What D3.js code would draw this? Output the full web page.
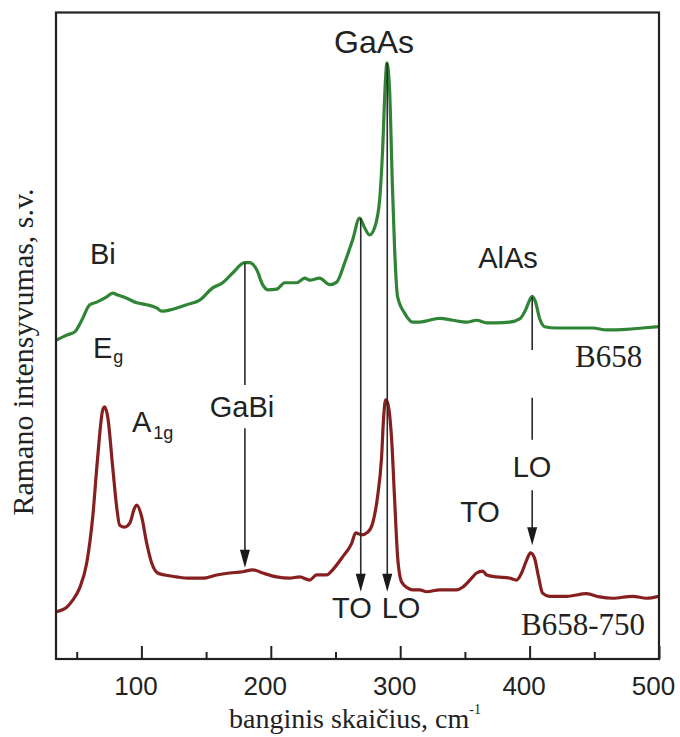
<!DOCTYPE html>
<html>
<head>
<meta charset="utf-8">
<script src="https://cdn.jsdelivr.net/npm/d3@7"></script>
<style>
  body { margin: 0; background: #fff; }
  .sans { font-family: "Liberation Sans", Arial, Helvetica, sans-serif; fill: #222; }
  .serif { font-family: "Liberation Serif", "Times New Roman", serif; fill: #222; }
</style>
</head>
<body>
<svg id="chart" width="680" height="737"></svg>
<script>
// Raman spectra: wavenumber (cm^-1) and intensity (arb. units)
const wnB658 = [34,42.3,48.5,53.9,60.1,65.5,73.2,77.8,81.7,88.6,96.4,104.1,111.8,115.7,124.2,135,145,155.1,162.8,170.5,179.8,183.7,189.1,193.7,197.6,204.5,210.7,220,226.2,230,237.7,245.5,250.9,257.1,263.2,268.6,272.5,276.4,280.2,284.1,286.4,288.5,289.7,291.8,293.9,295.7,298,303.4,309.6,315,320.4,330.5,340.5,351.3,359,366.8,374.5,384.5,392.3,396.9,400,402.1,404.6,407.7,411.6,420.9,433.2,448.7,459.5,475,487.3,500];
const intB658 = [49.3,50.1,50.6,52.4,54.8,55.2,56.0,56.6,56.3,55.8,55.1,54.8,54.3,53.8,54.1,54.8,55.5,57.4,58.2,59.7,61.3,61.3,60.2,57.9,57.1,57.2,58.2,58.2,58.9,58.6,58.9,57.9,58.3,61.3,64.8,68.2,66.7,65.6,66.7,71.0,78.7,89.1,92.2,88.0,73.6,63.3,56.0,53.5,52.1,52.1,52.3,52.7,52.4,52.1,52.4,52.0,52.0,52.1,52.6,54.0,55.5,56.1,55.2,52.7,51.4,51.2,51.2,51.2,50.9,51.0,51.2,51.4];

const wnB658750 = [34,42.3,46.9,52.3,57.7,62.4,66.2,70.1,71.7,74,77.8,80.9,83.2,87.1,91,94.8,96.4,100.2,104.1,108,112.6,118,127.3,137.3,147.4,158.2,168.2,178.3,186,193.7,204.5,214.6,222.3,230,235.4,243.2,247.8,255.5,262.5,265.6,270.2,274.8,278.7,282.5,285.6,287.2,288.7,290.3,293.4,295.7,298,301.1,305.7,309.6,315,320.4,330.5,343.6,348.2,355.2,359,363.7,366.8,374.5,384.5,389.9,393.8,397.7,400.7,403.8,406.9,410,415.4,428.6,444,454.1,464.2,479.6,490.4,500];
const intB658750 = [7.3,8.0,9.1,11.0,14.8,22.0,31.2,38.5,39.0,37.4,29.7,23.5,20.7,20.4,21.0,23.4,23.8,22.0,17.9,14.8,13.3,13.0,12.7,12.5,12.5,13.0,13.3,13.5,13.8,13.3,12.7,12.5,12.7,12.2,13.0,13.0,13.8,15.8,17.9,19.5,19.2,19.6,21.0,25.1,31.2,37.4,40.1,39.6,33.9,24.6,15.8,11.9,11.0,10.7,10.7,10.4,10.7,10.7,11.1,12.5,13.3,13.6,13.0,12.7,12.5,12.2,13.3,15.3,16.4,15.6,12.7,10.2,9.7,9.7,10.1,9.6,9.4,9.7,9.4,9.7];

const xTicksMajor = [100, 200, 300, 400, 500];
const xTicksMinor = [50, 150, 250, 350, 450];

// Phonon mode positions (cm^-1) marked on the spectra
const modeGaBi = 180;
const modeGaAsTO = 269.5;
const modeGaAsLO = 290;
const modeAlAsLO = 402;

const svg = d3.select("#chart");
const frame = { left: 56, right: 659, top: 12.5, bottom: 659 };

const x = d3.scaleLinear().domain([34, 500]).range([frame.left, frame.right]);
const y = d3.scaleLinear().domain([0, 100]).range([frame.bottom, frame.top]);

svg.append("defs").append("clipPath").attr("id", "plotClip")
  .append("rect").attr("x", frame.left).attr("y", frame.top)
  .attr("width", frame.right - frame.left).attr("height", frame.bottom - frame.top);

const line = d3.line()
  .x(d => x(d[0])).y(d => y(d[1]))
  .curve(d3.curveMonotoneX);

const plot = svg.append("g").attr("clip-path", "url(#plotClip)");

plot.append("path")
  .datum(d3.zip(wnB658, intB658))
  .attr("d", line)
  .attr("fill", "none")
  .attr("stroke", "#2f8535")
  .attr("stroke-width", 3.2)
  .attr("stroke-linejoin", "round");

plot.append("path")
  .datum(d3.zip(wnB658750, intB658750))
  .attr("d", line)
  .attr("fill", "none")
  .attr("stroke", "#862020")
  .attr("stroke-width", 3.2)
  .attr("stroke-linejoin", "round");

// marker lines and arrows
const ann = svg.append("g").attr("stroke", "#2a2a2a").attr("stroke-width", 1.6).attr("fill", "#1a1a1a");

function seg(w, i0, i1) {
  ann.append("line")
    .attr("x1", x(w)).attr("x2", x(w))
    .attr("y1", y(i0)).attr("y2", y(i1));
}
function arrow(w, i0, iTip) {
  const xt = x(w), yt = y(iTip), head = 18, half = 5;
  ann.append("line")
    .attr("x1", xt).attr("x2", xt)
    .attr("y1", y(i0)).attr("y2", yt - head + 2);
  ann.append("path")
    .attr("stroke", "none")
    .attr("d", `M${xt},${yt} L${xt - half},${yt - head} L${xt + half},${yt - head} Z`);
}

seg(modeGaBi, 61.3, 42.4);
arrow(modeGaBi, 35.7, 14.1);
arrow(modeGaAsTO, 68.2, 10.4);
arrow(modeGaAsLO, 92.2, 10.4);
seg(modeAlAsLO, 56.0, 47.8);
seg(modeAlAsLO, 40.4, 33.9);
arrow(modeAlAsLO, 26.1, 17.6);

// labels
function label(text, w, i, size, anchor, cls) {
  return svg.append("text")
    .attr("class", cls || "sans")
    .attr("x", x(w)).attr("y", y(i))
    .attr("font-size", size)
    .attr("text-anchor", anchor || "middle")
    .text(text);
}

label("GaAs", 279.8, 93.7, 32);
label("Bi", 60.3, 61.1, 29, "start");
const eg = label("E", 62.6, 46.6, 29, "start");
eg.append("tspan").attr("font-size", 18).attr("dy", 5).attr("dx", 1).text("g");
const a1g = label("A", 92.7, 35.1, 29, "start");
a1g.append("tspan").attr("font-size", 18).attr("dy", 7).attr("dx", 2).text("1g");
label("GaBi", 177.7, 37.4, 29);
label("AlAs", 383.3, 60.5, 29);
label("LO", 401.9, 28.2, 29);
label("TO", 361.7, 21.2, 29);
label("TO", 262.7, 6.3, 29);
label("LO", 300.6, 6.3, 29);
label("B658", 487, 45.2, 31, "end", "serif");
label("B658-750", 489.2, 3.7, 31, "end", "serif");

// x axis with inward ticks
const axisMajor = d3.axisBottom(x).tickValues(xTicksMajor).tickSize(-13).tickPadding(17.5).tickFormat(d3.format("d"));
const axisMinor = d3.axisBottom(x).tickValues(xTicksMinor).tickSize(-7).tickFormat("");

const gMinor = svg.append("g").attr("transform", `translate(0,${frame.bottom})`).call(axisMinor);
const gMajor = svg.append("g").attr("transform", `translate(0,${frame.bottom})`).call(axisMajor);
[gMinor, gMajor].forEach(g => {
  g.select(".domain").remove();
  g.selectAll(".tick line").attr("stroke", "#222").attr("stroke-width", 2);
});
gMajor.selectAll(".tick text")
  .attr("class", "sans")
  .attr("font-size", 26)
  .attr("dx", -6)
  .style("font-family", "'Liberation Sans', Arial, sans-serif")
  .attr("fill", "#222");

// plot frame
svg.append("rect")
  .attr("x", frame.left).attr("y", frame.top)
  .attr("width", frame.right - frame.left).attr("height", frame.bottom - frame.top)
  .attr("fill", "none").attr("stroke", "#222").attr("stroke-width", 2.2);

// axis titles
const xTitle = svg.append("text").attr("class", "serif")
  .attr("x", 355).attr("y", 728)
  .attr("font-size", 28).attr("text-anchor", "middle")
  .text("banginis skaičius, cm");
xTitle.append("tspan").attr("font-size", 14).attr("dy", -14).text("-1");

svg.append("text").attr("class", "serif")
  .attr("transform", `translate(33,352) rotate(-90)`)
  .attr("font-size", 30).attr("text-anchor", "middle")
  .text("Ramano intensyvumas, s.v.");
</script>
</body>
</html>
